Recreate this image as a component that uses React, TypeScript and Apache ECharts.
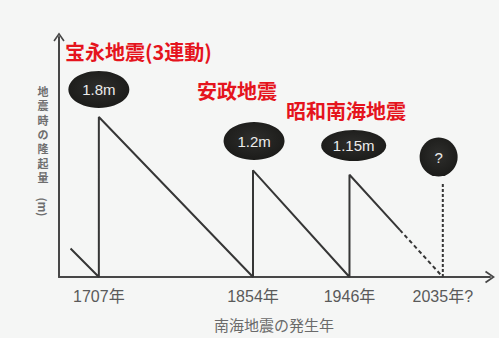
import React, { useEffect, useRef } from "react";
import * as echarts from "echarts";

// ---- data ----
const quakeYears = [1707, 1854, 1946];
const upliftM = [1.8, 1.2, 1.15];
const quakeNames = ["宝永地震(3連動)", "安政地震", "昭和南海地震"];
const forecastYear = 2035;
const preStart: [number, number] = [1680, 0.32]; // start of line before 1707
const solidEnd: [number, number] = [1994, 0.53]; // solid -> dashed change point
const forecastLineTop = 1.05;
const bubbleLabels = ["1.8m", "1.2m", "1.15m", "?"];
const bubbleX = [1707, 1855, 1950, 2031];
const bubbleY = [2.11, 1.53, 1.48, 1.35];
const bubbleSizes: [number, number][] = [[61, 37], [61, 38], [65, 31], [38, 39]];
const tickYears = [1707, 1854, 1946, 2035];
const tickLabels = ["1707年", "1854年", "1946年", "2035年?"];
const xTitle = "南海地震の発生年";
const yTitleChars = ["地", "震", "時", "の", "隆", "起", "量"];
const yTitleUnit = "(m)";

const ARROW = "path://M50,0 L100,72 L88,80 L50,24 L12,80 L0,72 Z";

export default function App() {
  const ref = useRef<HTMLDivElement>(null);
  useEffect(() => {
    document.body.style.margin = "0";
    const chart = echarts.init(ref.current!, null, { renderer: "svg" });

    const solid: [number, number][] = [preStart];
    quakeYears.forEach((y, i) => {
      solid.push([y, 0]);
      solid.push([y, upliftM[i]]);
    });
    solid.push(solidEnd);
    const dashed: [number, number][] = [solidEnd, [forecastYear, 0]];
    const vertical: [number, number][] = [[forecastYear, 0], [forecastYear, forecastLineTop]];

    const bubbles = bubbleLabels.map((l, i) => ({
      name: l,
      value: [bubbleX[i], bubbleY[i]],
      symbolSize: bubbleSizes[i],
    }));

    const lineColor = "#363636";
    const red = "#e5141d";
    const redFont = {
      fill: red,
      fontSize: 20,
      fontWeight: "bold" as const,
      fontFamily: "Noto Sans CJK JP",
    };
    const namePos = [
      [65, 53],
      [197, 92],
      [286, 112],
    ];

    const yTitleText = yTitleChars.map((c, i) => ({
      type: "text",
      x: 43,
      y: 92 + i * 14.3,
      style: {
        text: c,
        fill: "#6e6e6e",
        fontSize: 11,
        lineHeight: 12,
        fontWeight: "bold",
        fontFamily: "Liberation Sans, Noto Sans CJK JP",
        align: "center",
        verticalAlign: "middle",
      },
    }));

    chart.setOption({
      animation: false,
      backgroundColor: "#f5f6f5",
      grid: { left: 59, right: 9, top: 37, bottom: 61 },
      xAxis: {
        type: "value",
        min: 1669,
        max: 2080,
        splitLine: { show: false },
        axisTick: { show: false },
        axisLine: {
          show: true,
          symbol: ["none", ARROW],
          symbolSize: [16, 10],
          lineStyle: { color: "#474747", width: 2 },
        },
        axisLabel: {
          customValues: tickYears,
          formatter: (v: number) => tickLabels[tickYears.indexOf(v)] ?? "",
          color: "#5a5a5a",
          fontSize: 16,
          fontFamily: "Liberation Sans, Noto Sans CJK JP",
          margin: 11,
        },
      },
      yAxis: {
        type: "value",
        min: 0,
        max: 2.7,
        splitLine: { show: false },
        axisTick: { show: false },
        axisLabel: { show: false },
        axisLine: {
          show: true,
          symbol: ["none", ARROW],
          symbolSize: [14, 9],
          lineStyle: { color: "#474747", width: 2 },
        },
      },
      graphic: [
        ...quakeNames.map((n, i) => ({
          type: "text",
          left: namePos[i][0],
          top: namePos[i][1] - 12,
          style: { text: n, ...redFont },
        })),
        ...yTitleText,
        {
          type: "text",
          x: 43,
          y: 207,
          rotation: -Math.PI / 2,
          style: {
            text: yTitleUnit,
            fill: "#6e6e6e",
            fontSize: 11,
            fontWeight: "bold",
            fontFamily: "Noto Sans CJK JP",
            align: "center",
            verticalAlign: "middle",
          },
        },
        {
          type: "text",
          x: 274,
          y: 324,
          style: {
            text: xTitle,
            fill: "#6a6a6a",
            fontSize: 15,
            fontFamily: "Noto Sans CJK JP",
            align: "center",
            verticalAlign: "middle",
          },
        },
      ],
      series: [
        {
          type: "line",
          data: solid,
          showSymbol: false,
          lineStyle: { color: lineColor, width: 2 },
          z: 3,
        },
        {
          type: "line",
          data: dashed,
          showSymbol: false,
          lineStyle: { color: lineColor, width: 2, type: [4, 3] },
          z: 3,
        },
        {
          type: "line",
          data: vertical,
          showSymbol: false,
          lineStyle: { color: lineColor, width: 2, type: [3, 2] },
          z: 3,
        },
        {
          type: "scatter",
          data: bubbles,
          symbol: "circle",
          itemStyle: {
            opacity: 1,
            color: {
              type: "radial",
              x: 0.5,
              y: 0.45,
              r: 0.6,
              colorStops: [
                { offset: 0, color: "#2e2e2c" },
                { offset: 1, color: "#1a1a18" },
              ],
            },
          },
          label: {
            show: true,
            position: "inside",
            formatter: (p: any) => p.name,
            color: "#ececec",
            fontSize: 15,
            fontFamily: "Liberation Sans",
          },
          z: 4,
        },
      ],
    });
    return () => chart.dispose();
  }, []);
  return <div ref={ref} style={{ width: 499, height: 338 }} />;
}
